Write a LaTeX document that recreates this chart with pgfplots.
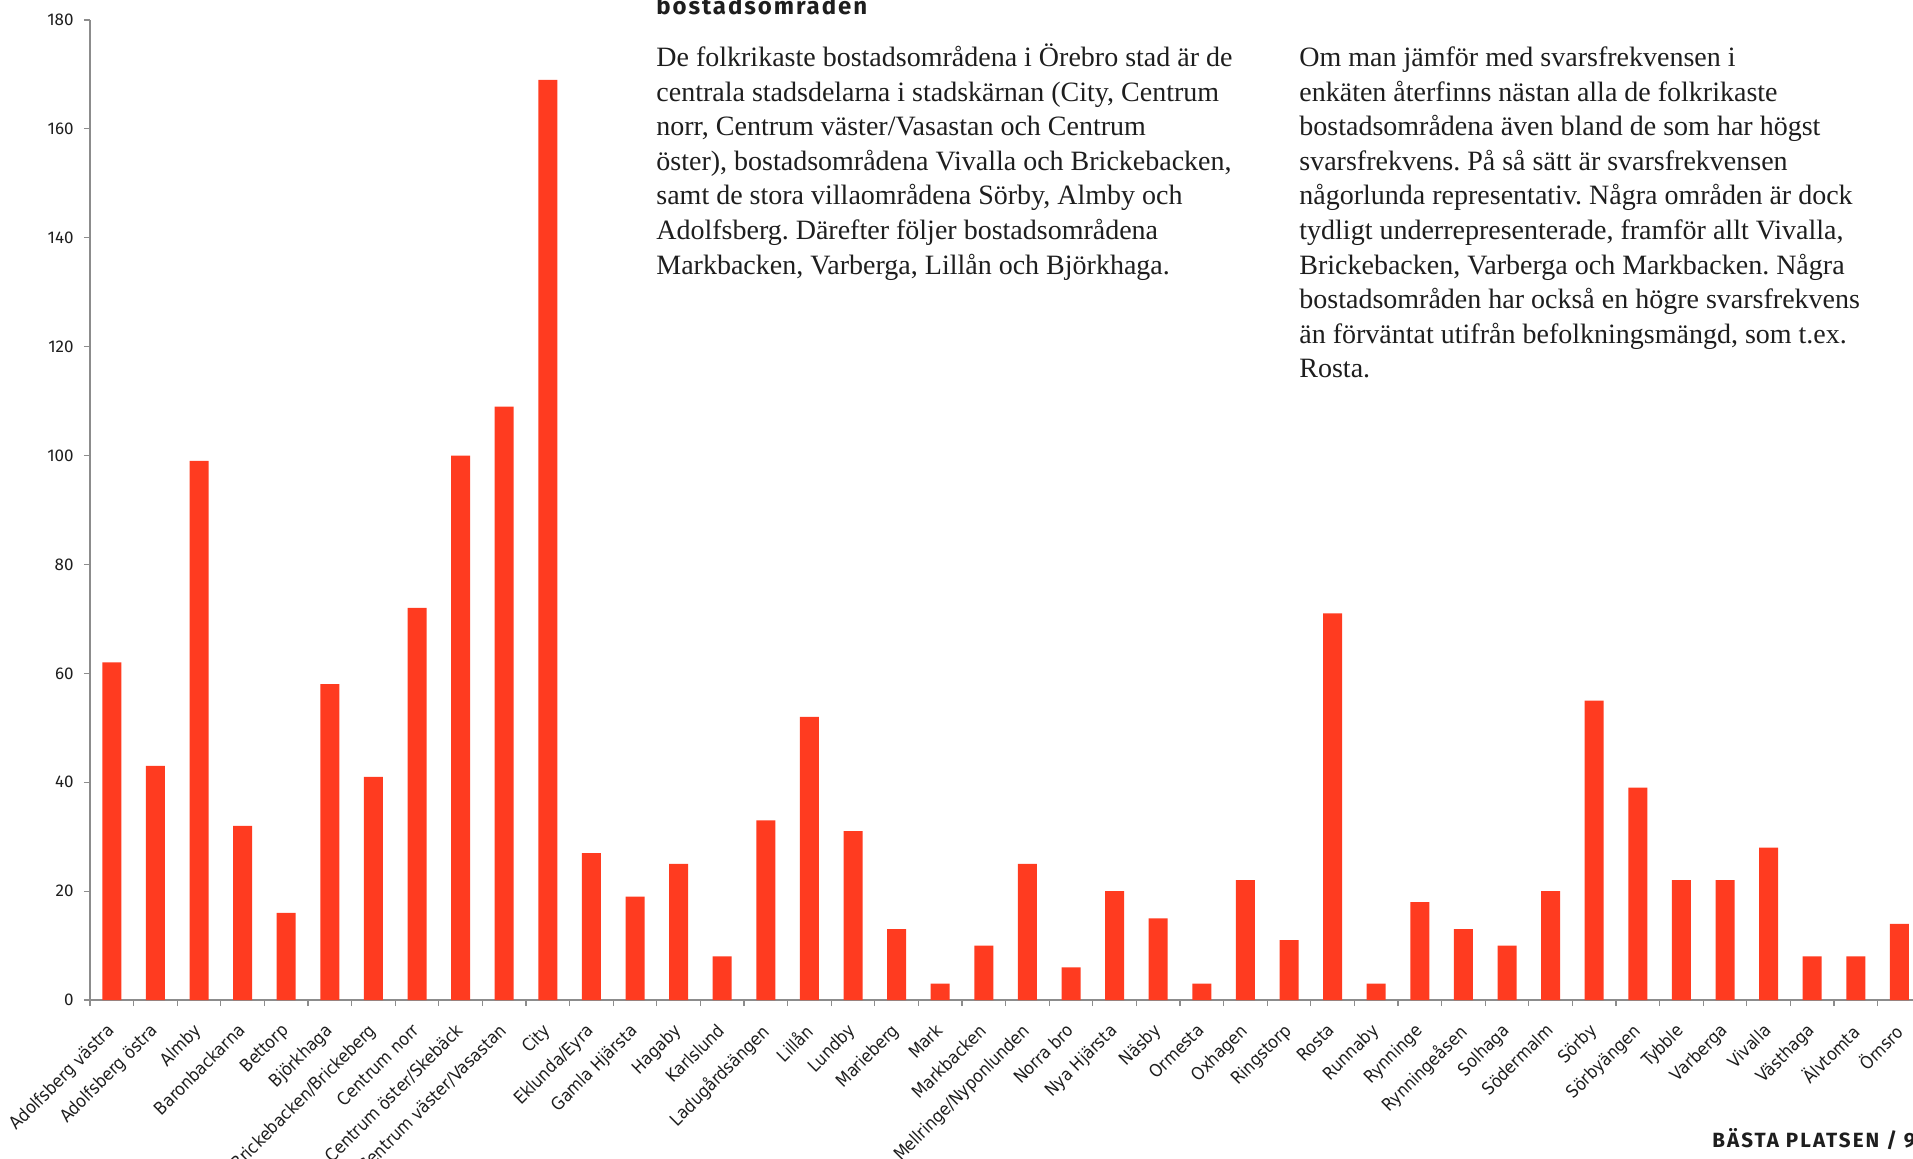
\documentclass[border=0pt]{standalone}
\usepackage{fontspec}
\setmainfont{Liberation Serif}
\newfontfamily\lblfont{DejaVu Sans Condensed}
\newfontfamily\dinfont{Fira Sans}
\newfontfamily\headfont[LetterSpace=8]{Fira Sans}
\newfontfamily\footfont[LetterSpace=10]{Fira Sans}
\usepackage{pgfplots}
\pgfplotsset{compat=1.18}
\definecolor{barred}{HTML}{FF3B20}
\definecolor{axisgray}{HTML}{8C8C8C}
\definecolor{txt}{HTML}{1E1E1E}
\frenchspacing
\newcommand\txtline[3]{\node[anchor=base west, inner sep=0pt, text=txt, font=\fontsize{14}{16}\selectfont] at (#1,#2) {#3};}
\begin{document}
\begin{tikzpicture}[x=1pt,y=1pt]
\useasboundingbox (0,0) rectangle (956.5,579);
\begin{axis}[
  at={(45pt,79pt)}, anchor=south west,
  scale only axis, width=915.6pt, height=490pt,
  xmin=-0.5, xmax=41.5, ymin=0, ymax=180,
  enlargelimits=false,
  axis x line*=bottom, axis y line*=left,
  axis line style={axisgray, line width=0.6pt},
  ybar, bar width=9.5pt, bar shift=0pt,
  ytick={0,20,...,180},
  xtick={0,...,41},
  xticklabels={Adolfsberg västra,Adolfsberg östra,Almby,Baronbackarna,Bettorp,Björkhaga,Brickebacken/Brickeberg,Centrum norr,Centrum öster/Skebäck,Centrum väster/Vasastan,City,Eklunda/Eyra,Gamla Hjärsta,Hagaby,Karlslund,Ladugårdsängen,Lillån,Lundby,Marieberg,Mark,Markbacken,Mellringe/Nyponlunden,Norra bro,Nya Hjärsta,Näsby,Ormesta,Oxhagen,Ringstorp,Rosta,Runnaby,Rynninge,Rynningeåsen,Solhaga,Södermalm,Sörby,Sörbyängen,Tybble,Varberga,Vivalla,Västhaga,Älvtomta,Örnsro},
  minor xtick={-0.5,0.5,...,41.5},
  major x tick style={draw=none},
  minor x tick style={axisgray, line width=0.6pt},
  ytick style={axisgray, line width=0.6pt},
  tick align=outside,
  major tick length=3pt, minor tick length=3pt,
  xticklabel style={font=\lblfont\fontsize{8.8}{10}\selectfont, text=txt, inner sep=0pt, xshift=-3pt, yshift=-8pt, rotate=45, anchor=north east},
  yticklabel style={font=\dinfont\fontsize{8.5}{10}\selectfont, text=txt, inner sep=0pt, xshift=-5pt},
  /pgf/number format/assume math mode=true,
]
\addplot[fill=barred, draw=none] coordinates {
(0,62) (1,43) (2,99) (3,32) (4,16) (5,58) (6,41) (7,72) (8,100) (9,109)
(10,169) (11,27) (12,19) (13,25) (14,8) (15,33) (16,52) (17,31) (18,13) (19,3)
(20,10) (21,25) (22,6) (23,20) (24,15) (25,3) (26,22) (27,11) (28,71) (29,3)
(30,18) (31,13) (32,10) (33,20) (34,55) (35,39) (36,22) (37,22) (38,28) (39,8)
(40,8) (41,14)
};
\end{axis}
\node[anchor=base west, inner sep=0pt, text=txt] at (328,571.5) {\headfont\bfseries\fontsize{12}{14}\selectfont bostadsområden};
\txtline{328}{545.65}{De folkrikaste bostadsområdena i Örebro stad är de}
\txtline{328}{528.37}{centrala stadsdelarna i stadskärnan (City, Centrum}
\txtline{328}{511.08}{norr, Centrum väster/Vasastan och Centrum}
\txtline{328}{493.80}{öster), bostadsområdena Vivalla och Brickebacken,}
\txtline{328}{476.51}{samt de stora villaområdena Sörby, Almby och}
\txtline{328}{459.23}{Adolfsberg. Därefter följer bostadsområdena}
\txtline{328}{441.94}{Markbacken, Varberga, Lillån och Björkhaga.}
\txtline{649.5}{545.65}{Om man jämför med svarsfrekvensen i}
\txtline{649.5}{528.37}{enkäten återfinns nästan alla de folkrikaste}
\txtline{649.5}{511.08}{bostadsområdena även bland de som har högst}
\txtline{649.5}{493.80}{svarsfrekvens. På så sätt är svarsfrekvensen}
\txtline{649.5}{476.51}{någorlunda representativ. Några områden är dock}
\txtline{649.5}{459.23}{tydligt underrepresenterade, framför allt Vivalla,}
\txtline{649.5}{441.94}{Brickebacken, Varberga och Markbacken. Några}
\txtline{649.5}{424.66}{bostadsområden har också en högre svarsfrekvens}
\txtline{649.5}{407.37}{än förväntat utifrån befolkningsmängd, som t.ex.}
\txtline{649.5}{390.09}{Rosta.}
\node[anchor=base west, inner sep=0pt, text=txt] at (856,5.5) {\footfont\bfseries\fontsize{10.3}{12}\selectfont BÄSTA PLATSEN / 9};
\end{tikzpicture}
\end{document}
